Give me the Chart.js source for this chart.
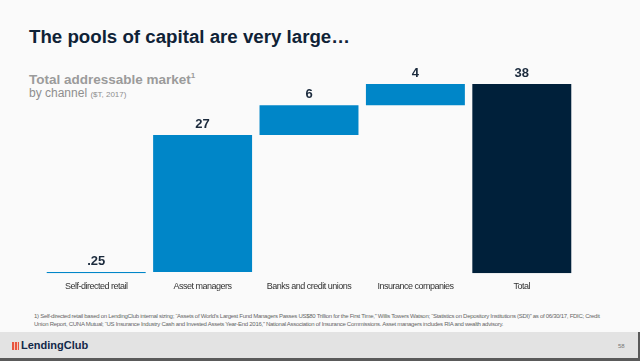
<!DOCTYPE html>
<html>
<head>
<meta charset="utf-8">
<script src="https://cdn.jsdelivr.net/npm/chart.js@4"></script>
<style>
  body { margin: 0; width: 640px; height: 361px; background: #fafafa; position: relative; overflow: hidden; font-family: "Liberation Sans", Arial, sans-serif; }
  .title { position: absolute; left: 29px; top: 26px; font-size: 18.7px; font-weight: bold; color: #0f2236; }
  .sub1 { position: absolute; left: 29px; top: 71px; font-size: 13.5px; font-weight: bold; color: #9b9b9b; }
  .sub1 sup { font-size: 8px; }
  .sub2 { position: absolute; left: 29px; top: 86px; font-size: 12px; color: #8e8e8e; }
  .sub2 span { font-size: 8px; }
  .chart-frame { position: absolute; left: 0; top: 50px; width: 640px; height: 250px; }
  .note { position: absolute; left: 34px; top: 313px; white-space: nowrap; font-size: 6px; line-height: 7.5px; color: #666; letter-spacing: -0.28px; }
  .footer { position: absolute; left: 0; top: 332px; width: 638px; height: 26px; background: #e3e3e3; border-bottom: 3px solid #5a5a5a; border-right: 2px solid #5a5a5a; }
  .logo { position: absolute; left: 12px; top: 339px; font-size: 11px; font-weight: bold; color: #13294a; }
  .logo i { display: inline-block; width: 7px; height: 8px; margin-right: 2px; vertical-align: -1px;
    background: repeating-linear-gradient(90deg, #e8553f 0 2px, #f6c6bb 2px 3px); }
  .page { position: absolute; left: 618px; top: 343px; font-size: 6px; color: #777; }
</style>
</head>
<body>
<div class="title">The pools of capital are very large…</div>
<div class="sub1">Total addressable market<sup>1</sup></div>
<div class="sub2">by channel <span>($T, 2017)</span></div>
<div class="chart-frame"><canvas id="tamChart" width="640" height="250"></canvas></div>
<div class="note">1) Self-directed retail based on LendingClub internal sizing; “Assets of World’s Largest Fund Managers Passes US$80 Trillion for the First Time,” Willis Towers Watson; “Statistics on Depository Institutions (SDI)” as of 06/30/17, FDIC; Credit<br>Union Report, CUNA Mutual; “US Insurance Industry Cash and Invested Assets Year-End 2016,” National Association of Insurance Commissions. Asset managers includes RIA and wealth advisory.</div>
<div class="footer"></div>
<div class="logo"><i></i>LendingClub</div>
<div class="page">58</div>

<script>
const categories = ['Self-directed retail', 'Asset managers', 'Banks and credit unions', 'Insurance companies', 'Total'];
// $T, bar heights (steps, then the total)
const stepValues = [0.25, 27.5, 6, 4.25];
const totalValue = 38;
const valueLabels = ['.25', '27', '6', '4', '38'];

// floating bars: each step starts where the previous one ended
let running = 0;
const ranges = stepValues.map(v => {
  const r = [running, running + v];
  running += v;
  return r;
});
ranges.push([0, totalValue]);

const barColors = ['#0086c8', '#0086c8', '#0086c8', '#0086c8', '#00203a'];

// tighter tick text, the slide uses a condensed face
const tightText = {
  id: 'tightText',
  beforeDraw(chart) {
    chart.ctx.letterSpacing = '-0.5px';
  }
};

const valueLabelPlugin = {
  id: 'valueLabels',
  afterDatasetsDraw(chart) {
    const ctx = chart.ctx;
    const meta = chart.getDatasetMeta(0);
    ctx.save();
    ctx.letterSpacing = '0px';
    ctx.font = 'bold 13px "Liberation Sans", Arial, sans-serif';
    ctx.fillStyle = '#1b2a3c';
    ctx.textAlign = 'center';
    ctx.textBaseline = 'middle';
    meta.data.forEach((bar, i) => {
      ctx.fillText(valueLabels[i], bar.x, bar.y - 11);
    });
    ctx.restore();
  }
};

new Chart(document.getElementById('tamChart').getContext('2d'), {
  type: 'bar',
  data: {
    labels: categories,
    datasets: [{
      data: ranges,
      backgroundColor: barColors,
      borderWidth: 0,
      borderSkipped: false,
      barPercentage: 0.93,
      categoryPercentage: 1
    }]
  },
  options: {
    responsive: false,
    animation: false,
    layout: { padding: { left: 43, right: 65, top: 34, bottom: 0 } },
    plugins: { legend: { display: false }, tooltip: { enabled: false } },
    scales: {
      y: { display: false, min: 0, max: 38 },
      x: {
        grid: { display: false, drawTicks: false },
        border: { display: false },
        ticks: {
          color: '#333',
          padding: 8,
          maxRotation: 0,
          autoSkip: false,
          font: { size: 9, family: '"Liberation Sans", Arial, sans-serif' }
        }
      }
    }
  },
  plugins: [tightText, valueLabelPlugin]
});
</script>
</body>
</html>
